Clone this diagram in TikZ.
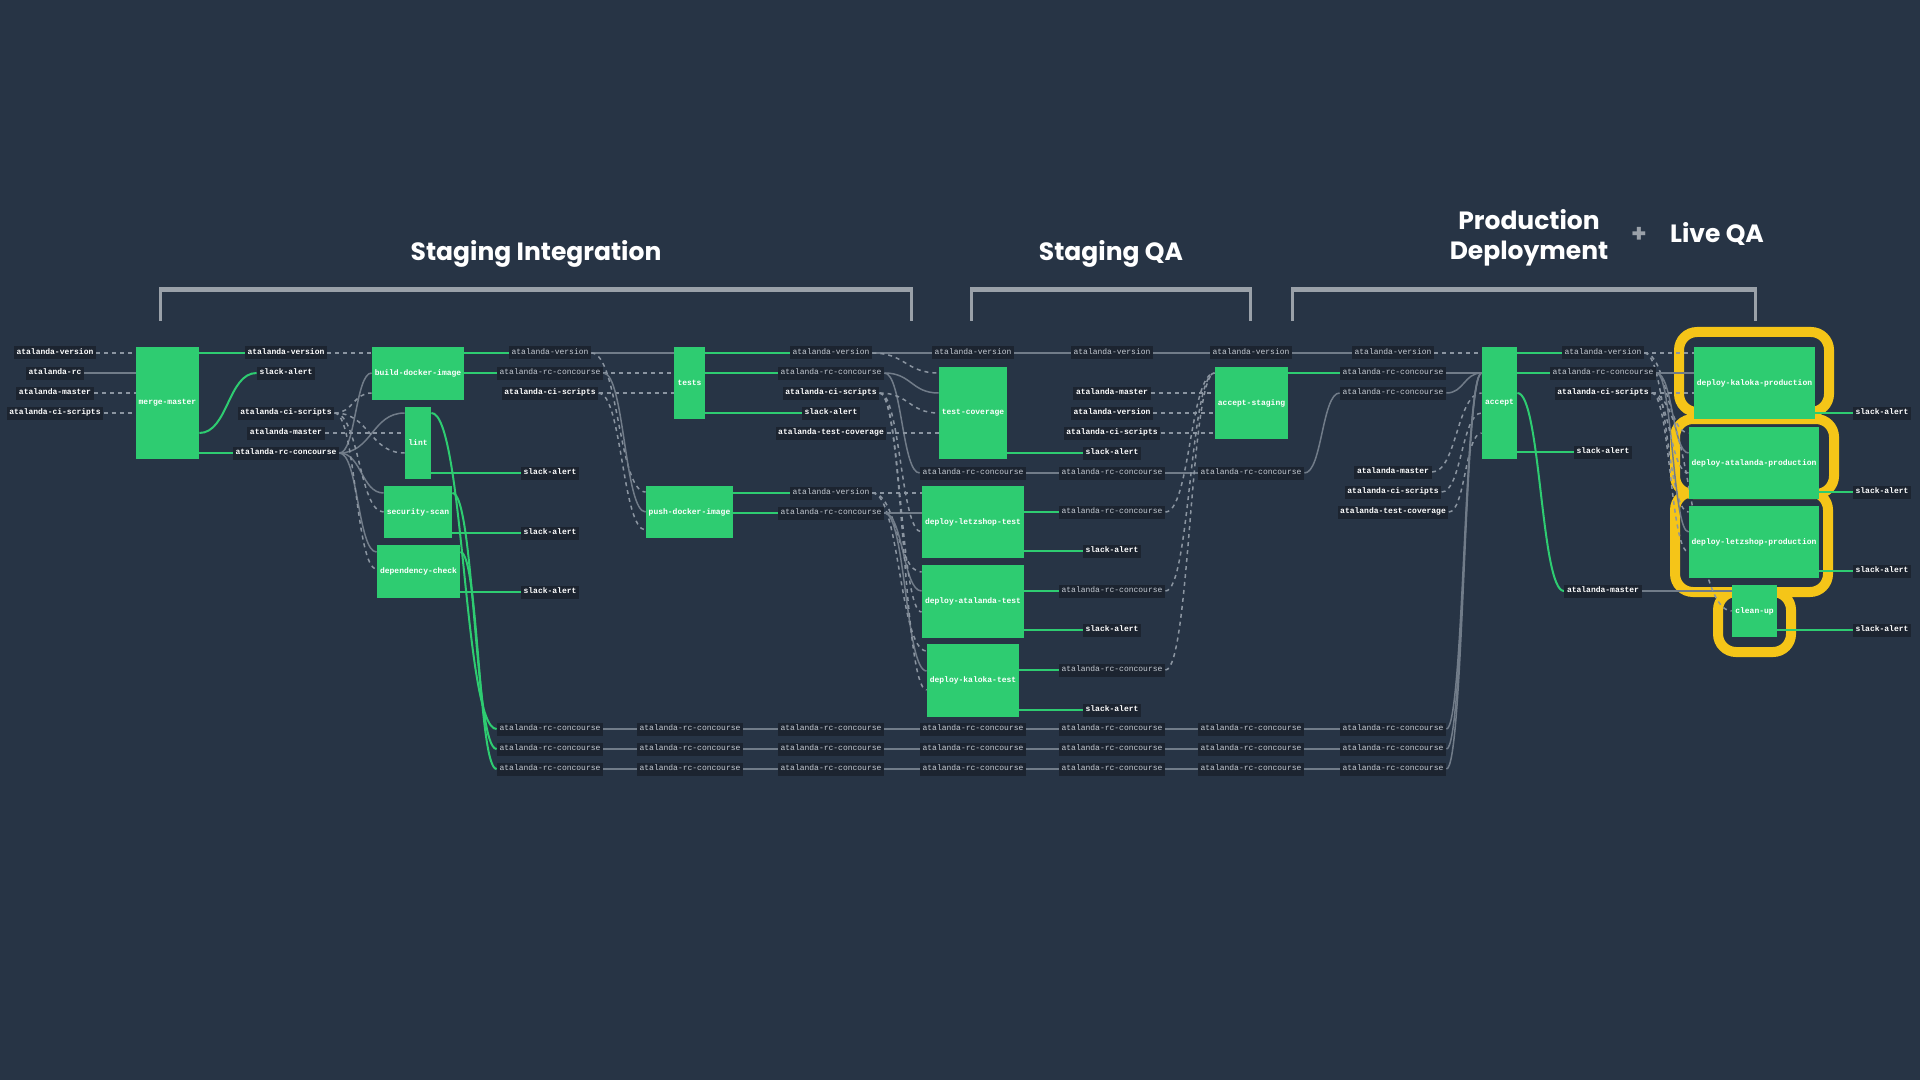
\documentclass[tikz,border=0pt]{standalone}
\usepackage{fontspec}
\setmonofont{Liberation Mono}
\newfontfamily\ttlfont{Poppins}
\usetikzlibrary{calc}
\definecolor{bgc}{HTML}{273445}
\definecolor{labbg}{HTML}{1C2430}
\definecolor{labgrey}{HTML}{C5CBD3}
\definecolor{jobgreen}{HTML}{2ECC71}
\definecolor{greyline}{HTML}{717C89}
\definecolor{dashgrey}{HTML}{8B95A1}
\definecolor{brkgrey}{HTML}{9AA1A9}
\definecolor{ringy}{HTML}{F5C518}
\pgfdeclarelayer{back}\pgfdeclarelayer{lines}\pgfsetlayers{back,lines,main}
\newcommand\lbfont{\ttfamily\fontsize{4}{5}\selectfont}
\begin{document}
\begin{tikzpicture}[x=0.5pt,y=-0.5pt,
 lb/.style={fill=labbg, inner xsep=1.3pt, inner ysep=0pt, minimum height=6.5pt, text height=2.7pt, text depth=0.8pt, font=\lbfont, text=labgrey},
 lw/.style={lb, font=\lbfont\bfseries, text=white},
 job/.style={fill=jobgreen, inner sep=0pt, font=\lbfont\bfseries, text=white},
 gl/.style={draw=jobgreen, line width=1pt},
 sl/.style={draw=greyline, line width=0.75pt},
 dl/.style={draw=dashgrey, line width=0.75pt, dash pattern=on 2pt off 2pt},
 cv/.style={to path={let \p1=(\tikztostart), \p2=(\tikztotarget), \p3=($(\tikztostart)!0.5!(\tikztotarget)$) in .. controls (\x3,\y1) and (\x3,\y2) .. (\tikztotarget)}},
 ring/.style={draw=ringy, line width=5pt, rounded corners=9pt},
 brk/.style={draw=brkgrey},
 ttl/.style={font=\ttlfont\bfseries\fontsize{12.5}{15}\selectfont, text=white, inner sep=0pt}
]
\useasboundingbox (0,0) rectangle (1920,1080);
\begin{pgfonlayer}{back}
\fill[bgc] (0,0) rectangle (1920,1080);
% brackets
\draw[brk, line width=2.5pt] (159,289.5) -- (913,289.5);
\draw[brk, line width=1.5pt] (160.5,289) -- (160.5,321);
\draw[brk, line width=1.5pt] (911.5,289) -- (911.5,321);
\draw[brk, line width=2.5pt] (970,289.5) -- (1252,289.5);
\draw[brk, line width=1.5pt] (971.5,289) -- (971.5,321);
\draw[brk, line width=1.5pt] (1250.5,289) -- (1250.5,321);
\draw[brk, line width=2.5pt] (1291,289.5) -- (1757,289.5);
\draw[brk, line width=1.5pt] (1292.5,289) -- (1292.5,321);
\draw[brk, line width=1.5pt] (1755.5,289) -- (1755.5,321);
% highlight rings
\draw[ring] (1679,332) rectangle (1829,412);
\draw[ring] (1675,419) rectangle (1834,494);
\draw[ring] (1675,492) rectangle (1828,592);
\draw[ring] (1718,592) rectangle (1791,652);
\end{pgfonlayer}

% titles
\node[ttl, anchor=base] (t1) at (536,261) {Staging Integration};
\node[ttl, anchor=base] (t2) at (1111,261) {Staging QA};
\node[ttl, anchor=base] (t3a) at (1529,230) {Production};
\node[ttl, anchor=base] (t3b) at (1529,260) {Deployment};
\node[ttl, text=brkgrey] (tplus) at (1639,235) {+};
\node[ttl, anchor=base] (t4) at (1717,243) {Live QA};

% jobs
\node[job, minimum width=31.5pt, minimum height=56pt] (mm) at (167.5,403) {merge-master};
\node[job, minimum width=46pt, minimum height=26.5pt] (bdi) at (418,373.5) {build-docker-image};
\node[job, minimum width=13pt, minimum height=36pt] (lint) at (418,443) {lint};
\node[job, minimum width=34pt, minimum height=26pt] (ss) at (418,512) {security-scan};
\node[job, minimum width=41.5pt, minimum height=26.5pt] (dc) at (418.5,571.5) {dependency-check};
\node[job, minimum width=15.5pt, minimum height=36pt] (tests) at (689.5,383) {tests};
\node[job, minimum width=43.5pt, minimum height=26pt] (pdi) at (689.5,512) {push-docker-image};
\node[job, minimum width=34pt, minimum height=46pt] (tc) at (973,413) {test-coverage};
\node[job, minimum width=51pt, minimum height=36pt] (dlt) at (973,522) {deploy-letzshop-test};
\node[job, minimum width=51pt, minimum height=36.5pt] (dat) at (973,601.5) {deploy-atalanda-test};
\node[job, minimum width=46pt, minimum height=36.5pt] (dkt) at (973,680.5) {deploy-kaloka-test};
\node[job, minimum width=36.5pt, minimum height=36pt] (as) at (1251.5,403) {accept-staging};
\node[job, minimum width=17.5pt, minimum height=56pt] (acc) at (1499.5,403) {accept};
\node[job, minimum width=60.5pt, minimum height=36pt] (kp) at (1754.5,383) {deploy-kaloka-production};
\node[job, minimum width=65pt, minimum height=36pt] (ap) at (1754,463) {deploy-atalanda-production};
\node[job, minimum width=65pt, minimum height=36pt] (lp) at (1754,542) {deploy-letzshop-production};
\node[job, minimum width=22.5pt, minimum height=26pt] (cu) at (1754.5,611) {clean-up};

% resource labels
\node[lw] (c0v) at (55,353) {atalanda-version};
\node[lw] (c0rc) at (55,373) {atalanda-rc};
\node[lw] (c0m) at (55,393) {atalanda-master};
\node[lw] (c0ci) at (55,413) {atalanda-ci-scripts};

\node[lw] (c1v) at (286,353) {atalanda-version};
\node[lw] (c1s) at (286,373) {slack-alert};
\node[lw] (c1ci) at (286,413) {atalanda-ci-scripts};
\node[lw] (c1m) at (286,433) {atalanda-master};
\node[lw] (c1rc) at (286,453) {atalanda-rc-concourse};

\node[lb] (c3v) at (550,353) {atalanda-version};
\node[lb] (c3rc) at (550,373) {atalanda-rc-concourse};
\node[lw] (c3ci) at (550,393) {atalanda-ci-scripts};
\node[lw] (c3s1) at (550,473) {slack-alert};
\node[lw] (c3s2) at (550,533) {slack-alert};
\node[lw] (c3s3) at (550,592) {slack-alert};

\node[lb] (c5v) at (831,353) {atalanda-version};
\node[lb] (c5rc) at (831,373) {atalanda-rc-concourse};
\node[lw] (c5ci) at (831,393) {atalanda-ci-scripts};
\node[lw] (c5s) at (831,413) {slack-alert};
\node[lw] (c5tc) at (831,433) {atalanda-test-coverage};
\node[lb] (c5v2) at (831,493) {atalanda-version};
\node[lb] (c5rc2) at (831,513) {atalanda-rc-concourse};

\node[lb] (cDv) at (973,353) {atalanda-version};
\node[lb] (cDrc) at (973,473) {atalanda-rc-concourse};

\node[lb] (c7v) at (1112,353) {atalanda-version};
\node[lw] (c7m) at (1112,393) {atalanda-master};
\node[lw] (c7v2) at (1112,413) {atalanda-version};
\node[lw] (c7ci) at (1112,433) {atalanda-ci-scripts};
\node[lw] (c7s) at (1112,453) {slack-alert};
\node[lb] (c7rc) at (1112,473) {atalanda-rc-concourse};
\node[lb] (c7r1) at (1112,512) {atalanda-rc-concourse};
\node[lw] (c7s1) at (1112,551) {slack-alert};
\node[lb] (c7r2) at (1112,591) {atalanda-rc-concourse};
\node[lw] (c7s2) at (1112,630) {slack-alert};
\node[lb] (c7r3) at (1112,670) {atalanda-rc-concourse};
\node[lw] (c7s3) at (1112,710) {slack-alert};

\node[lb] (cFv) at (1251,353) {atalanda-version};
\node[lb] (cFrc) at (1251,473) {atalanda-rc-concourse};

\node[lb] (cGv) at (1393,353) {atalanda-version};
\node[lb] (cGrc) at (1393,373) {atalanda-rc-concourse};
\node[lb] (cGrc2) at (1393,393) {atalanda-rc-concourse};
\node[lw] (cGm) at (1393,472) {atalanda-master};
\node[lw] (cGci) at (1393,492) {atalanda-ci-scripts};
\node[lw] (cGtc) at (1393,512) {atalanda-test-coverage};

\node[lb] (cHv) at (1603,353) {atalanda-version};
\node[lb] (cHrc) at (1603,373) {atalanda-rc-concourse};
\node[lw] (cHci) at (1603,393) {atalanda-ci-scripts};
\node[lw] (cHs) at (1603,452) {slack-alert};
\node[lw] (cHm) at (1603,591) {atalanda-master};

\node[lw] (cJ1) at (1882,413) {slack-alert};
\node[lw] (cJ2) at (1882,492) {slack-alert};
\node[lw] (cJ3) at (1882,571) {slack-alert};
\node[lw] (cJ4) at (1882,630) {slack-alert};

\foreach \rr/\yy in {1/729,2/749,3/769} {
  \foreach \cc/\xx in {a/550,b/690,c/831,d/973,e/1112,f/1251,g/1393} {
    \node[lb] (b\rr\cc) at (\xx,\yy) {atalanda-rc-concourse};
  }
}

\begin{pgfonlayer}{lines}
% merge-master
\draw[dl] (c0v.east) -- (mm.west |- c0v.east);
\draw[sl] (c0rc.east) -- (mm.west |- c0rc.east);
\draw[dl] (c0m.east) -- (mm.west |- c0m.east);
\draw[dl] (c0ci.east) -- (mm.west |- c0ci.east);
\draw[gl] (mm.east |- c1v.west) -- (c1v.west);
\draw[gl] (mm.east |- 0,433) to[cv] (c1s.west);
\draw[gl] (mm.east |- c1rc.west) -- (c1rc.west);
% column 1 -> jobs
\draw[dl] (c1v.east) -- (bdi.west |- c1v.east);
\draw[sl] (c1rc.east) to[cv] (bdi.west |- 0,373);
\draw[dl] (c1ci.east) to[cv] (bdi.west |- 0,393);
\draw[sl] (c1rc.east) to[cv] (lint.west |- 0,413);
\draw[dl] (c1m.east) -- (lint.west |- c1m.east);
\draw[dl] (c1ci.east) to[cv] (lint.west |- 0,453);
\draw[sl] (c1rc.east) to[cv] (ss.west |- 0,493);
\draw[dl] (c1ci.east) to[cv] (ss.west |- 0,512);
\draw[sl] (c1rc.east) to[cv] (dc.west |- 0,552);
\draw[dl] (c1ci.east) to[cv] (dc.west |- 0,569);
% outputs
\draw[gl] (bdi.east |- c3v.west) -- (c3v.west);
\draw[gl] (bdi.east |- c3rc.west) -- (c3rc.west);
\draw[gl] (lint.east |- 0,413) to[cv] (b1a.west);
\draw[gl] (lint.east |- c3s1.west) -- (c3s1.west);
\draw[gl] (ss.east |- 0,493) to[cv] (b2a.west);
\draw[gl] (ss.east |- c3s2.west) -- (c3s2.west);
\draw[gl] (dc.east |- 0,552) to[cv] (b3a.west);
\draw[gl] (dc.east |- c3s3.west) -- (c3s3.west);
% column 3 -> tests / push
\draw[sl] (c3v.east) -- (tests.west |- c3v.east);
\draw[dl] (c3rc.east) -- (tests.west |- c3rc.east);
\draw[dl] (c3ci.east) -- (tests.west |- c3ci.east);
\draw[dl] (c3v.east) to[cv] (pdi.west |- 0,492);
\draw[sl] (c3rc.east) to[cv] (pdi.west |- 0,512);
\draw[dl] (c3ci.east) to[cv] (pdi.west |- 0,530);
\draw[gl] (tests.east |- c5v.west) -- (c5v.west);
\draw[gl] (tests.east |- c5rc.west) -- (c5rc.west);
\draw[gl] (tests.east |- c5s.west) -- (c5s.west);
\draw[gl] (pdi.east |- c5v2.west) -- (c5v2.west);
\draw[gl] (pdi.east |- c5rc2.west) -- (c5rc2.west);
% column 5 -> column 6
\draw[sl] (c5v.east) -- (cDv.west);
\draw[dl] (c5v.east) to[cv] (tc.west |- 0,373);
\draw[sl] (c5rc.east) to[cv] (tc.west |- 0,393);
\draw[sl] (c5rc.east) to[cv] (cDrc.west);
\draw[dl] (c5ci.east) to[cv] (tc.west |- 0,413);
\draw[dl] (c5tc.east) -- (tc.west |- c5tc.east);
\draw[dl] (c5v2.east) -- (dlt.west |- c5v2.east);
\draw[dl] (c5v2.east) to[cv] (dat.west |- 0,572);
\draw[dl] (c5v2.east) to[cv] (dkt.west |- 0,651);
\draw[sl] (c5rc2.east) -- (dlt.west |- c5rc2.east);
\draw[sl] (c5rc2.east) to[cv] (dat.west |- 0,591);
\draw[sl] (c5rc2.east) to[cv] (dkt.west |- 0,671);
\draw[dl] (c5ci.east) to[cv] (dlt.west |- 0,532);
\draw[dl] (c5ci.east) to[cv] (dat.west |- 0,612);
\draw[dl] (c5ci.east) to[cv] (dkt.west |- 0,690);
% column 6 outputs
\draw[gl] (tc.east |- c7s.west) -- (c7s.west);
\draw[gl] (dlt.east |- c7r1.west) -- (c7r1.west);
\draw[gl] (dlt.east |- c7s1.west) -- (c7s1.west);
\draw[gl] (dat.east |- c7r2.west) -- (c7r2.west);
\draw[gl] (dat.east |- c7s2.west) -- (c7s2.west);
\draw[gl] (dkt.east |- c7r3.west) -- (c7r3.west);
\draw[gl] (dkt.east |- c7s3.west) -- (c7s3.west);
\draw[sl] (cDv.east) -- (c7v.west);
\draw[sl] (cDrc.east) -- (c7rc.west);
% column 7 -> accept-staging
\draw[sl] (c7v.east) -- (cFv.west);
\draw[sl] (c7rc.east) -- (cFrc.west);
\draw[dl] (c7m.east) -- (as.west |- c7m.east);
\draw[dl] (c7v2.east) -- (as.west |- c7v2.east);
\draw[dl] (c7ci.east) -- (as.west |- c7ci.east);
\draw[dl] (c7r1.east) to[cv] (as.west |- 0,373);
\draw[dl] (c7r2.east) to[cv] (as.west |- 0,373);
\draw[dl] (c7r3.east) to[cv] (as.west |- 0,373);
\draw[gl] (as.east |- cGrc.west) -- (cGrc.west);
\draw[sl] (cFv.east) -- (cGv.west);
\draw[sl] (cFrc.east) to[cv] (cGrc2.west);
% column G -> accept
\draw[dl] (cGv.east) -- (acc.west |- cGv.east);
\draw[sl] (cGrc.east) -- (acc.west |- cGrc.east);
\draw[sl] (cGrc2.east) to[cv] (acc.west |- 0,373);
\draw[dl] (cGm.east) to[cv] (acc.west |- 0,393);
\draw[dl] (cGci.east) to[cv] (acc.west |- 0,413);
\draw[dl] (cGtc.east) to[cv] (acc.west |- 0,433);
\draw[sl] (b1g.east) to[cv] (acc.west |- 0,373);
\draw[sl] (b2g.east) to[cv] (acc.west |- 0,373);
\draw[sl] (b3g.east) to[cv] (acc.west |- 0,373);
% accept outputs
\draw[gl] (acc.east |- cHv.west) -- (cHv.west);
\draw[gl] (acc.east |- cHrc.west) -- (cHrc.west);
\draw[gl] (acc.east |- cHs.west) -- (cHs.west);
\draw[gl] (acc.east |- 0,393) to[cv] (cHm.west);
% column H -> production
\draw[dl] (cHv.east) -- (kp.west |- cHv.east);
\draw[dl] (cHv.east) to[cv] (ap.west |- 0,433);
\draw[dl] (cHv.east) to[cv] (lp.west |- 0,512);
\draw[sl] (cHrc.east) -- (kp.west |- cHrc.east);
\draw[sl] (cHrc.east) to[cv] (ap.west |- 0,453);
\draw[sl] (cHrc.east) to[cv] (lp.west |- 0,532);
\draw[dl] (cHci.east) -- (kp.west |- cHci.east);
\draw[dl] (cHci.east) to[cv] (ap.west |- 0,473);
\draw[dl] (cHci.east) to[cv] (lp.west |- 0,552);
\draw[sl] (cHm.east) -- (cu.west |- cHm.east);
\draw[dl] (cHci.east) to[cv] (cu.west |- 0,611);
% production outputs
\draw[gl] (kp.east |- cJ1.west) -- (cJ1.west);
\draw[gl] (ap.east |- cJ2.west) -- (cJ2.west);
\draw[gl] (lp.east |- cJ3.west) -- (cJ3.west);
\draw[gl] (cu.east |- cJ4.west) -- (cJ4.west);
% bottom chains
\foreach \rr in {1,2,3} {
  \draw[sl] (b\rr a.east) -- (b\rr b.west) (b\rr b.east) -- (b\rr c.west)
    (b\rr c.east) -- (b\rr d.west) (b\rr d.east) -- (b\rr e.west)
    (b\rr e.east) -- (b\rr f.west) (b\rr f.east) -- (b\rr g.west);
}
\end{pgfonlayer}
\end{tikzpicture}
\end{document}
